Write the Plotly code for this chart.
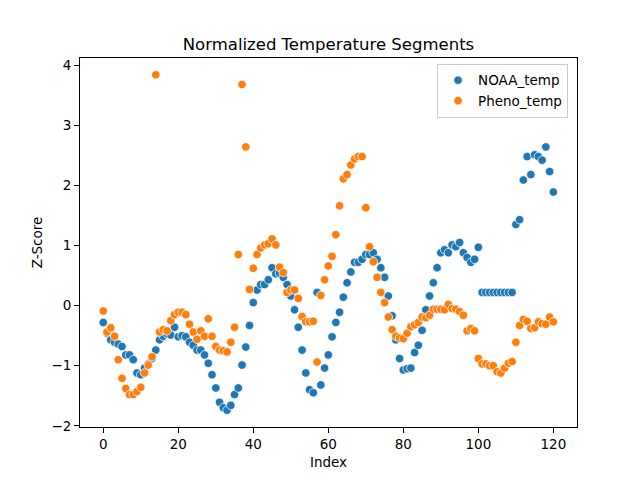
import plotly.graph_objects as go

noaa_temp = [
    -0.28, -0.46, -0.57, -0.61, -0.64, -0.68, -0.82, -0.82, -0.90, -1.12,
    -1.15, -1.04, -0.97, -0.88, -0.74, -0.57, -0.51, -0.47, -0.49, -0.36,
    -0.52, -0.50, -0.52, -0.61, -0.66, -0.74, -0.74, -0.82, -0.96, -1.15,
    -1.37, -1.61, -1.70, -1.74, -1.66, -1.48, -1.37, -0.99, -0.69, -0.33,
    0.05, 0.26, 0.35, 0.35, 0.43, 0.63, 0.53, 0.54, 0.47, 0.35,
    0.16, -0.07, -0.36, -0.74, -1.12, -1.40, -1.45, 0.22, -1.32, -1.04,
    -0.82, -0.52, -0.28, -0.11, 0.14, 0.38, 0.56, 0.72, 0.72, 0.77,
    0.85, 0.85, 0.88, 0.77, 0.63, 0.47, 0.16, -0.17, -0.57, -0.88,
    -1.07, -1.05, -1.04, -0.78, -0.66, -0.41, -0.07, 0.16, 0.38, 0.63,
    0.88, 0.93, 0.88, 1.01, 0.98, 1.05, 0.88, 0.80, 0.72, 0.77,
    0.97, 0.22, 0.22, 0.22, 0.22, 0.22, 0.22, 0.22, 0.22, 0.22,
    1.35, 1.43, 2.09, 2.48, 2.18, 2.51, 2.48, 2.42, 2.64, 2.23,
    1.89,
]

pheno_temp = [
    -0.09, -0.44, -0.37, -0.51, -0.90, -1.21, -1.38, -1.48, -1.48, -1.43,
    -1.36, -1.12, -0.99, -0.85, 3.84, -0.44, -0.40, -0.42, -0.25, -0.15,
    -0.11, -0.11, -0.15, -0.31, -0.44, -0.56, -0.42, -0.51, -0.22, -0.51,
    -0.68, -0.74, -0.75, -0.77, -0.61, -0.36, 0.85, 3.68, 2.64, 0.27,
    0.62, 0.85, 0.96, 1.01, 1.03, 1.11, 1.01, 0.64, 0.55, 0.22,
    0.26, 0.26, 0.12, -0.18, -0.27, -0.27, -0.26, -0.94, 0.17, 0.43,
    0.66, 0.82, 1.18, 1.66, 2.11, 2.18, 2.34, 2.44, 2.48, 2.48,
    1.63, 0.98, 0.73, 0.47, 0.22, 0.05, -0.19, -0.40, -0.51, -0.54,
    -0.55, -0.46, -0.35, -0.32, -0.28, -0.19, -0.20, -0.16, -0.06, -0.06,
    -0.06, -0.07, 0.02, -0.05, -0.06, -0.10, -0.16, -0.42, -0.38, -0.42,
    -0.88, -0.97, -0.97, -1.00, -1.00, -1.10, -1.12, -1.04, -0.96, -0.93,
    -0.61, -0.33, -0.23, -0.26, -0.38, -0.37, -0.27, -0.30, -0.31, -0.19,
    -0.27,
]

index = list(range(len(noaa_temp)))

series = [("NOAA_temp", noaa_temp, "#1f77b4"), ("Pheno_temp", pheno_temp, "#ff7f0e")]

fig = go.Figure()
for name, vals, col in series:
    fig.add_trace(go.Scatter(
        x=index, y=vals, mode="markers", name=name,
        marker=dict(color=col, size=8.5, line=dict(color="white", width=0.75))
    ))

axis_style = dict(
    showgrid=False, zeroline=False, showline=True, linecolor="black", linewidth=1,
    mirror=True, ticks="outside", ticklen=5, tickcolor="black", automargin=False,
    tickfont=dict(size=13.5, color="black"),
)

# page body has an 8px margin, so the figure is a bit smaller than the window
fig.update_layout(
    width=624, height=464,
    margin=dict(l=72, r=55, t=50, b=45),
    paper_bgcolor="white", plot_bgcolor="white",
    font=dict(family="DejaVu Sans", color="black"),
    title=dict(text="Normalized Temperature Segments", xref="paper", x=0.5, xanchor="center",
               y=1 - 36 / 464, yanchor="middle", font=dict(size=16.5)),
    xaxis=dict(axis_style, range=[-6.2, 126.3], tickvals=[0, 20, 40, 60, 80, 100, 120],
               title=dict(text="Index", font=dict(size=13.5), standoff=6)),
    yaxis=dict(axis_style, range=[-2.02, 4.12], tickvals=[-2, -1, 0, 1, 2, 3, 4],
               title=dict(text="Z-Score", font=dict(size=13.5), standoff=5)),
    legend=dict(x=0.982, y=0.984, xanchor="right", yanchor="top",
                bgcolor="rgba(255,255,255,0.8)", bordercolor="#cccccc", borderwidth=1,
                font=dict(size=13.5), tracegroupgap=0),
)

fig.write_html("out.html")
